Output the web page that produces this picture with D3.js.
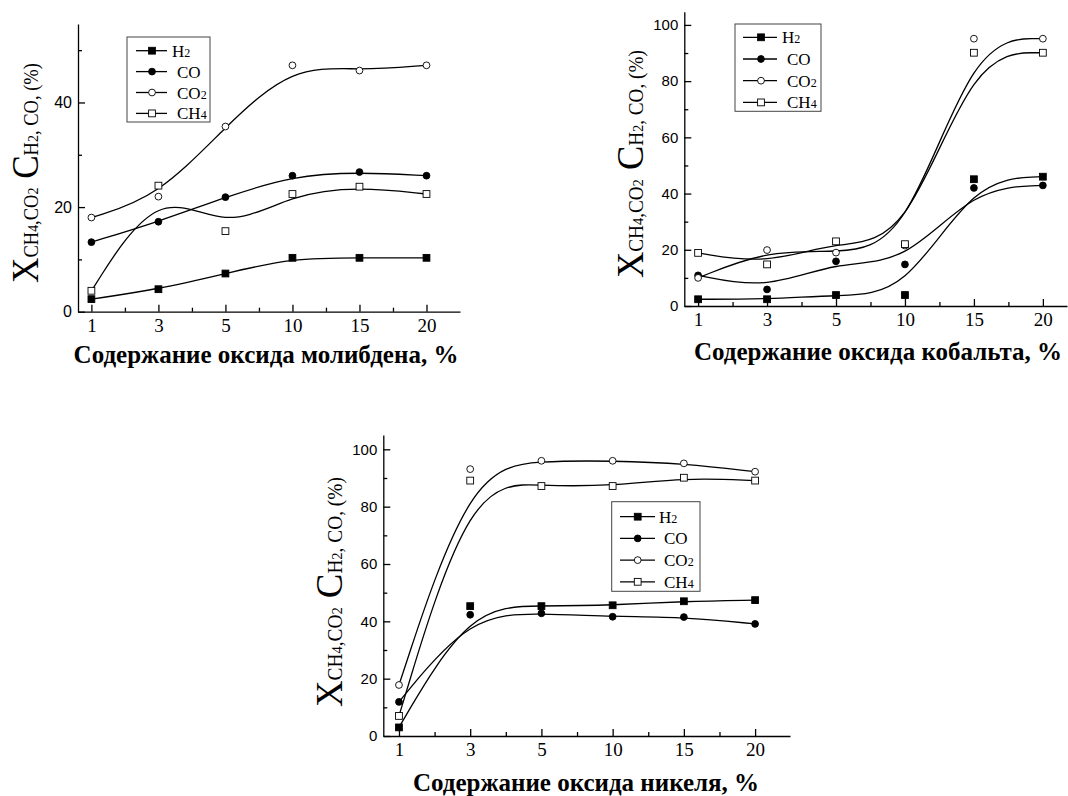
<!DOCTYPE html>
<html>
<head>
<meta charset="utf-8">
<script src="https://cdn.jsdelivr.net/npm/d3@7"></script>
<style>
body { margin: 0; background: #fff; }
</style>
</head>
<body>
<svg id="chart" width="1068" height="796"></svg>
<script>
// категории по оси X (содержание оксида, %)
var categories = ["1", "3", "5", "10", "15", "20"];
var series = ["H2", "CO", "CO2", "CH4"];

// молибден
var mo_H2  = [2.4, 4.3, 7.3, 10.3, 10.3, 10.3];
var mo_CO  = [13.3, 17.2, 21.9, 26.0, 26.7, 26.0];
var mo_CO2 = [18.0, 22.0, 35.4, 47.1, 46.1, 47.1];
var mo_CH4 = [4.0, 24.1, 15.4, 22.5, 23.9, 22.5];

// кобальт
var co_H2  = [2.4, 2.4, 3.9, 3.9, 45.1, 46.0];
var co_CO  = [10.9, 5.9, 15.9, 14.8, 42.0, 42.9];
var co_CO2 = [10.0, 19.9, 19.0, 21.5, 95.1, 95.1];
var co_CH4 = [18.9, 14.8, 23.0, 22.0, 90.1, 90.1];

// никель
var ni_H2  = [3.0, 45.3, 45.3, 45.6, 47.0, 47.4];
var ni_CO  = [11.9, 42.3, 42.8, 41.6, 41.5, 39.1];
var ni_CO2 = [17.8, 93.1, 96.0, 96.0, 95.1, 92.2];
var ni_CH4 = [7.0, 89.1, 87.2, 87.2, 90.1, 89.1];

var yTicksSmall = [0, 20, 40];
var yMinorSmall = [10, 30, 50];
var yTicksBig = [0, 20, 40, 60, 80, 100];
var yMinorBig = [10, 30, 50, 70, 90];

var panels = [
  { data: [mo_H2, mo_CO, mo_CO2, mo_CH4], yTicks: yTicksSmall, yMinor: yMinorSmall, yMax: 55,
    left: 78, right: 460, bottom: 311.7, top: 24, xMin: -0.2, xMax: 5.5, tickFont: 16,
    legend: { x: 127, y: 37, w: 83, h: 85, row0: 50.7, step: 20.9, l1: 136, l2: 167, m: 152, t: 172 },
    title: "Содержание оксида молибдена, %", titleX: 266, titleY: 363,
    labelX: 38, labelY: 283, labelLen: 220 },
  { data: [co_H2, co_CO, co_CO2, co_CH4], yTicks: yTicksBig, yMinor: yMinorBig, yMax: 104.7,
    left: 684.3, right: 1067, bottom: 306, top: 11.7, xMin: -0.2, xMax: 5.35, tickFont: 15,
    legend: { x: 735, y: 24, w: 86, h: 87.3, row0: 37.3, step: 21.7, l1: 743, l2: 777, m: 761, t: 782 },
    title: "Содержание оксида кобальта, %", titleX: 878, titleY: 360,
    labelX: 643, labelY: 278, labelLen: 228 },
  { data: [ni_H2, ni_CO, ni_CO2, ni_CH4], yTicks: yTicksBig, yMinor: yMinorBig, yMax: 105,
    left: 383.3, right: 790, bottom: 736, top: 435, xMin: -0.22, xMax: 5.49, tickFont: 15,
    legend: { x: 611.7, y: 501.7, w: 88.3, h: 89.6, row0: 516.7, step: 21.7, l1: 620, l2: 655, m: 637.7, t: 659 },
    title: "Содержание оксида никеля, %", titleX: 586, titleY: 791,
    labelX: 342, labelY: 707, labelLen: 230 }
];

var serif = "'Liberation Serif', 'Times New Roman', serif";
var sans = "'Liberation Sans', Arial, sans-serif";

var svg = d3.select("#chart");

function drawMarker(g, k, cx, cy) {
  if (k == 0 || k == 3) {
    g.append("rect")
      .attr("x", cx - 3.4).attr("y", cy - 3.4)
      .attr("width", 6.8).attr("height", 6.8)
      .attr("fill", k == 0 ? "black" : "white")
      .attr("stroke", "black").attr("stroke-width", 0.9);
  } else {
    g.append("circle")
      .attr("cx", cx).attr("cy", cy).attr("r", 3.4)
      .attr("fill", k == 1 ? "black" : "white")
      .attr("stroke", "black").attr("stroke-width", 0.9);
  }
}

// подпись с нижним индексом: цифры меньше
function addLabel(t, name, big, small) {
  name.split("").forEach(function(ch) {
    t.append("tspan")
      .text(ch)
      .style("font-size", (/[0-9]/.test(ch) ? small : big) + "px");
  });
}

panels.forEach(function(p) {
  var g = svg.append("g");
  var x = d3.scaleLinear().domain([p.xMin, p.xMax]).range([p.left, p.right]);
  var y = d3.scaleLinear().domain([0, p.yMax]).range([p.bottom, p.top]);
  var idx = d3.range(categories.length);

  // минорные деления
  g.append("g")
    .attr("transform", "translate(0," + p.bottom + ")")
    .call(d3.axisBottom(x).tickValues(idx.slice(0, -1).map(function(i) { return i + 0.5; }))
      .tickSize(-4).tickSizeOuter(0).tickFormat(""))
    .call(function(a) { a.select(".domain").remove(); });
  g.append("g")
    .attr("transform", "translate(" + p.left + ",0)")
    .call(d3.axisLeft(y).tickValues(p.yMinor).tickSize(-4).tickSizeOuter(0).tickFormat(""))
    .call(function(a) { a.select(".domain").remove(); });

  // ось X
  var ax = g.append("g")
    .attr("transform", "translate(0," + p.bottom + ")")
    .call(d3.axisBottom(x).tickValues(idx).tickFormat(function(i) { return categories[i]; })
      .tickSize(-7).tickSizeOuter(0).tickPadding(7));
  ax.selectAll("text").style("font-family", serif).style("font-size", "19px").attr("fill", "black");

  // ось Y
  var ay = g.append("g")
    .attr("transform", "translate(" + p.left + ",0)")
    .call(d3.axisLeft(y).tickValues(p.yTicks).tickSize(-7).tickSizeOuter(0).tickPadding(6));
  ay.selectAll("text").style("font-family", sans).style("font-size", p.tickFont + "px").attr("fill", "black");

  g.selectAll(".domain, .tick line").attr("stroke", "black").attr("stroke-width", 1.3);

  // кривые (B-сплайн)
  p.data.forEach(function(vals, k) {
    var line = d3.line()
      .x(function(d, i) { return x(i); })
      .y(function(d) { return y(d); })
      .curve(d3.curveBasis);
    g.append("path")
      .datum(vals)
      .attr("d", line)
      .attr("fill", "none")
      .attr("stroke", "black")
      .attr("stroke-width", 1.3);
  });
  p.data.forEach(function(vals, k) {
    vals.forEach(function(v, i) { drawMarker(g, k, x(i), y(v)); });
  });

  // легенда
  var L = p.legend;
  g.append("rect")
    .attr("x", L.x).attr("y", L.y).attr("width", L.w).attr("height", L.h)
    .attr("fill", "white").attr("stroke", "#444").attr("stroke-width", 1);
  series.forEach(function(s, k) {
    var ry = L.row0 + k * L.step;
    g.append("line")
      .attr("x1", L.l1).attr("x2", L.l2).attr("y1", ry).attr("y2", ry)
      .attr("stroke", "black").attr("stroke-width", 1.3);
    drawMarker(g, k, L.m, ry);
    var t = g.append("text")
      .attr("x", k == 0 ? L.t : L.t + 5).attr("y", ry + 6)
      .style("font-family", serif).attr("fill", "black");
    addLabel(t, s, 17, 12);
  });

  // подпись оси X
  g.append("text")
    .attr("x", p.titleX).attr("y", p.titleY)
    .attr("text-anchor", "middle")
    .style("font-family", serif).style("font-size", "25px").style("font-weight", "bold")
    .attr("fill", "black")
    .text(p.title);

  // подпись оси Y
  var yl = g.append("text")
    .style("font-family", serif).attr("fill", "black");
  yl.append("tspan").text("X").style("font-size", "38px");
  yl.append("tspan").text("CH").style("font-size", "20px");
  yl.append("tspan").text("4").style("font-size", "15px");
  yl.append("tspan").text(",CO").style("font-size", "20px");
  yl.append("tspan").text("2").style("font-size", "15px");
  yl.append("tspan").text(" C").style("font-size", "38px");
  yl.append("tspan").text("H").style("font-size", "20px");
  yl.append("tspan").text("2").style("font-size", "15px");
  yl.append("tspan").text(", CO, (%)").style("font-size", "20px");
  var len = yl.node().getComputedTextLength();
  yl.attr("transform", "translate(" + p.labelX + "," + p.labelY + ") rotate(-90) scale(" + (p.labelLen / len) + ",1)");
});
</script>
</body>
</html>
